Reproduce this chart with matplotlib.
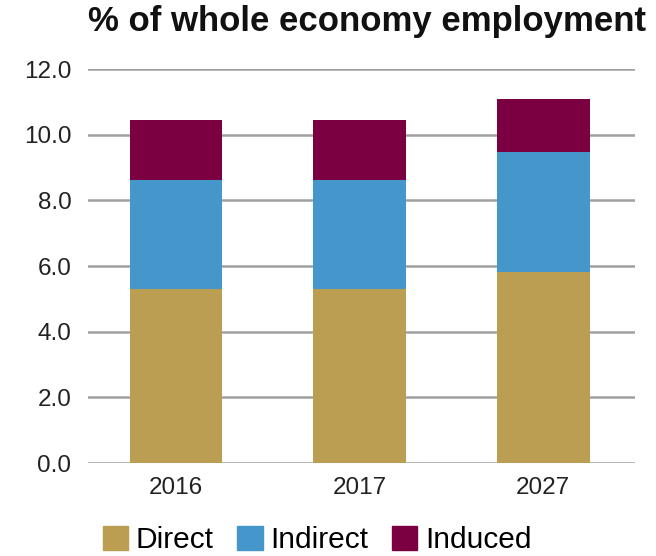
import matplotlib
matplotlib.use("Agg")
import matplotlib.pyplot as plt
from matplotlib.patches import Patch

years = ["2016", "2017", "2027"]
direct = [5.3, 5.3, 5.82]
indirect = [3.32, 3.32, 3.65]
induced = [1.83, 1.83, 1.63]
series_names = ["Direct", "Indirect", "Induced"]
colors = ["#BC9E52", "#4496CB", "#7B0041"]

plt.rcParams['font.family'] = ['Liberation Sans', 'DejaVu Sans']
fig = plt.figure(figsize=(6.56, 5.56), dpi=100)
ax = fig.add_axes([88/656, 1-463/556, (635-88)/656, (463-69)/556])

x = list(range(len(years)))
b1 = [d for d in direct]
b2 = [d + i for d, i in zip(direct, indirect)]
ax.bar(x, direct, width=0.505, color=colors[0], zorder=3)
ax.bar(x, indirect, width=0.505, bottom=b1, color=colors[1], zorder=3)
ax.bar(x, induced, width=0.505, bottom=b2, color=colors[2], zorder=3)

ax.set_ylim(0, 12)
ax.set_xlim(-0.48, 2.5)
ax.set_yticks([0, 2, 4, 6, 8, 10, 12])
ax.set_yticklabels([f"{v:.1f}" for v in [0, 2, 4, 6, 8, 10, 12]], fontsize=17.5, color="#222222")
ax.set_xticks(x)
ax.set_xticklabels(years, fontsize=17.5, color="#222222")
ax.tick_params(axis='both', length=0)
ax.tick_params(axis='y', pad=12)
ax.tick_params(axis='x', pad=10)
ax.yaxis.grid(True, color="#A0A0A0", linewidth=1.8, zorder=0)
for s in ax.spines.values():
    s.set_visible(False)

fig.text(367/656, 1-22/556, "% of whole economy employment", ha="center", va="center",
         fontsize=25, fontweight="bold", color="#111111")

handles = [Patch(color=c, label=n) for c, n in zip(colors, series_names)]
fig.legend(handles=handles, loc="center", bbox_to_anchor=(317/656, 1-540/556), ncol=3,
           frameon=False, fontsize=21.5, handlelength=0.85, handleheight=0.85,
           handletextpad=0.25, columnspacing=0.8, borderpad=0.2)

fig.savefig("out.png", dpi=100)
